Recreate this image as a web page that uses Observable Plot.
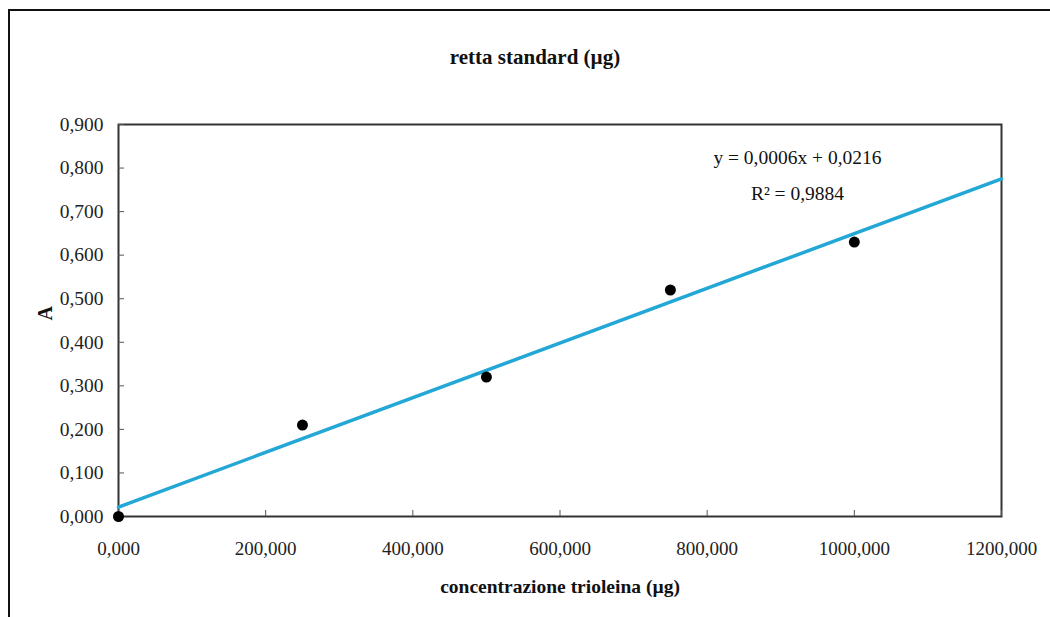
<!DOCTYPE html>
<html>
<head>
<meta charset="utf-8">
<script src="https://cdn.jsdelivr.net/npm/d3@7"></script>
<script src="https://cdn.jsdelivr.net/npm/@observablehq/plot@0.6"></script>
<style>
  html, body { margin: 0; padding: 0; background: #fff; }
  #wrap { position: relative; width: 1050px; height: 617px; overflow: hidden; }
  #border { position: absolute; left: 8px; top: 9px; right: -10px; bottom: -10px;
            border-top: 2px solid #111; border-left: 2px solid #111; pointer-events: none; }
  svg { font-family: "Liberation Serif", "Times New Roman", serif; }
</style>
</head>
<body>
<div id="wrap"><div id="border"></div></div>
<script>
// Data
const concentrations = [0, 250, 500, 750, 1000];       // concentrazione trioleina (µg)
const absorbances   = [0, 0.21, 0.32, 0.52, 0.63];      // A
const trendX = [0, 1200];                                // trend line extent
const trendY = [0.0216, 0.775];                          // trend line values at extent
const xTicks = [0, 200, 400, 600, 800, 1000, 1200];
const yTicks = [0, 0.1, 0.2, 0.3, 0.4, 0.5, 0.6, 0.7, 0.8, 0.9];
const titleText = "retta standard (µg)";
const xLabel = "concentrazione trioleina (µg)";
const yLabel = "A";
const equationText = "y = 0,0006x + 0,0216";
const r2Text = "R² = 0,9884";

const points = concentrations.map((x, i) => ({x, y: absorbances[i]}));
const trend = trendX.map((x, i) => ({x, y: trendY[i]}));
const fmt = d => d.toFixed(3).replace(".", ",");

const chart = Plot.plot({
  width: 1050,
  height: 617,
  marginLeft: 118,
  marginTop: 124,
  marginRight: 49,
  marginBottom: 101,
  style: {fontFamily: '"Liberation Serif", "Times New Roman", serif', fontSize: "19px", color: "#222", background: "transparent"},
  x: {domain: [0, 1200]},
  y: {domain: [0, 0.9]},
  marks: [
    Plot.frame({stroke: "#333", strokeWidth: 2}),
    Plot.axisX({ticks: xTicks, tickFormat: fmt, tickSize: -6, tickPadding: 31, fontSize: 19, label: null, stroke: "#555"}),
    Plot.axisY({ticks: yTicks, tickFormat: fmt, tickSize: -6, tickPadding: 21, fontSize: 19.5, label: null, stroke: "#555"}),
    Plot.line(trend, {x: "x", y: "y", stroke: "#22a7d6", strokeWidth: 3.5}),
    Plot.dot(points, {x: "x", y: "y", r: 5.5, fill: "#000", stroke: "none"}),
    Plot.text([titleText], {text: d => d, frameAnchor: "top", lineAnchor: "middle", dy: -67, dx: -25, fontWeight: "bold", fontSize: 21, fill: "#111"}),
    Plot.text([xLabel], {text: d => d, frameAnchor: "bottom", lineAnchor: "middle", dy: 70, fontWeight: "bold", fontSize: 19.5, fill: "#111"}),
    Plot.text([yLabel], {text: d => d, frameAnchor: "left", lineAnchor: "middle", dx: -73, rotate: -90, fontWeight: "bold", fontSize: 20, fill: "#111"}),
    Plot.text([equationText], {text: d => d, frameAnchor: "top-right", lineAnchor: "middle", dx: -204, dy: 33, textAnchor: "middle", fontSize: 19.5, fill: "#111"}),
    Plot.text([r2Text], {text: d => d, frameAnchor: "top-right", lineAnchor: "middle", dx: -204, dy: 69, textAnchor: "middle", fontSize: 19.5, fill: "#111"})
  ]
});
document.getElementById("wrap").appendChild(chart);
</script>
</body>
</html>
